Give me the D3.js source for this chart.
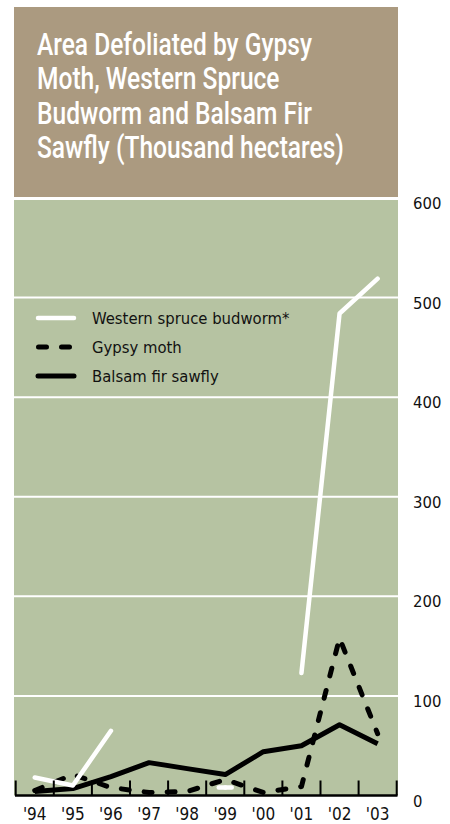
<!DOCTYPE html>
<html><head><meta charset="utf-8">
<script src="https://cdn.jsdelivr.net/npm/d3@7/dist/d3.min.js"></script>
<style>body{margin:0;background:#fff}svg{display:block}</style>
</head><body><svg id="c" width="450" height="824"></svg>
<script>
const years = ["'94","'95","'96","'97","'98","'99","'00","'01","'02","'03"];
const budworm = [18,10,65,null,null,8,null,123,484,519];
const gypsy = [5,21,8,3,4,16,3,9,158,62];
const sawfly = [4,7,19,33,27,21,44,50,71,52];
const yTicks = [0,100,200,300,400,500,600];
const titleLines = ["Area Defoliated by Gypsy","Moth, Western Spruce","Budworm and Balsam Fir","Sawfly (Thousand hectares)"];
const legendLabels = ["Western spruce budworm*","Gypsy moth","Balsam fir sawfly"];

const FONT = "'DejaVu Sans Condensed','DejaVu Sans',sans-serif";
const TFONT = "Roboto,'Open Sans',sans-serif";
const svg = d3.select("#c");
const L = 14, R = 398, TOP = 197, BOT = 795.5;

// title box
svg.append("rect").attr("x",L).attr("y",7).attr("width",R-L).attr("height",190).attr("fill","#ab9a80");
const tt = svg.append("g");
const tEls = titleLines.map((t,i)=> tt.append("text").attr("x",0).attr("y",55+i*34.5).attr("fill","#fff")
    .attr("font-family",TFONT).attr("font-size",31).attr("font-weight",500).text(t));
const w0 = tEls[0].node().getComputedTextLength();
const sx = 275 / w0;
tt.attr("transform",`translate(37,0) scale(${sx},1)`);

// plot bg
svg.append("rect").attr("x",L).attr("y",TOP+3).attr("width",R-L).attr("height",BOT-TOP-3).attr("fill","#b6c3a2");

const x = d3.scaleBand().domain(years).range([15.7,396.7]);
const y = d3.scaleLinear().domain([0,600]).range([BOT,TOP+1]);
const cx = d => x(d)+x.bandwidth()/2;

// gridlines
svg.append("g").selectAll("line").data(yTicks.filter(v=>v>0)).join("line")
  .attr("x1",L).attr("x2",R).attr("y1",d=>y(d)).attr("y2",d=>y(d))
  .attr("stroke","#fff").attr("stroke-width",2);

// right axis labels
svg.append("g").selectAll("text").data(yTicks).join("text")
  .attr("x",413).attr("y",d=>y(d)+11).attr("font-family",FONT).attr("font-size",16.5).attr("fill","#111").text(d=>d);

// series
const lineGen = arr => d3.line().defined(d=>d!=null).x((d,i)=>cx(years[i])).y(d=>y(d))(arr);
svg.append("path").attr("d",lineGen(gypsy)).attr("fill","none").attr("stroke","#000")
  .attr("stroke-width",5).attr("stroke-dasharray","8,15").attr("stroke-linecap","round").attr("stroke-linejoin","round");
svg.append("path").attr("d",lineGen(sawfly)).attr("fill","none").attr("stroke","#000")
  .attr("stroke-width",5).attr("stroke-linejoin","round");
svg.append("path").attr("d",lineGen(budworm)).attr("fill","none").attr("stroke","#fff")
  .attr("stroke-width",4.5).attr("stroke-linecap","round").attr("stroke-linejoin","round");
// isolated budworm points
const iso = budworm.map((v,i)=>({v,i})).filter(o=>o.v!=null && budworm[o.i-1]==null && budworm[o.i+1]==null);
svg.append("g").selectAll("line").data(iso).join("line")
  .attr("x1",o=>cx(years[o.i])-x.bandwidth()*0.17).attr("x2",o=>cx(years[o.i])+x.bandwidth()*0.17)
  .attr("y1",o=>y(o.v)).attr("y2",o=>y(o.v)).attr("stroke","#fff").attr("stroke-width",4.5).attr("stroke-linecap","round");

// bottom axis
const ax = svg.append("g");
ax.append("line").attr("x1",15).attr("x2",397.5).attr("y1",BOT).attr("y2",BOT).attr("stroke","#000").attr("stroke-width",2.5);
const edges = years.map(d=>x(d)).concat([x.range()[1]]);
ax.selectAll("line.t").data(edges).join("line").attr("class","t")
  .attr("x1",d=>d).attr("x2",d=>d).attr("y1",BOT).attr("y2",BOT-15).attr("stroke","#000").attr("stroke-width",2);
ax.selectAll("text").data(years).join("text").attr("x",d=>cx(d)).attr("y",820)
  .attr("text-anchor","middle").attr("font-family",FONT).attr("font-size",17).attr("fill","#111").text(d=>d);

// legend
const lg = svg.append("g");
const legY = [318,347,376];
const styles = [{c:"#fff",w:4.5,da:null},{c:"#000",w:5,da:"8,15"},{c:"#000",w:5,da:null}];
legendLabels.forEach((t,i)=>{
  const s = styles[i];
  const ln = lg.append("line").attr("x1",i==1?38.5:38).attr("x2",i==1?72.5:74).attr("y1",legY[i]).attr("y2",legY[i])
    .attr("stroke",s.c).attr("stroke-width",s.w).attr("stroke-linecap","round");
  if(s.da) ln.attr("stroke-dasharray",s.da);
  lg.append("text").attr("x",92).attr("y",legY[i]+6).attr("font-family",FONT).attr("font-size",16.5).attr("fill","#111").text(t);
});
</script></body></html>
